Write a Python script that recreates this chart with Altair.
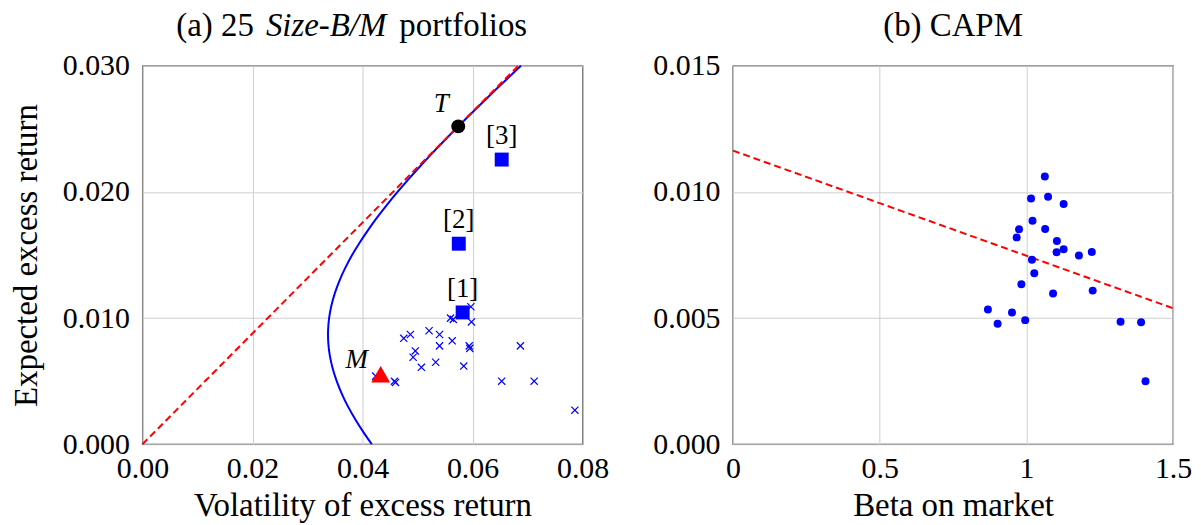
import altair as alt
import pandas as pd

# ---------------- Panel (a): 25 Size-B/M portfolios ----------------
front_ret = [0.000, 0.001, 0.002, 0.003, 0.004, 0.005, 0.006, 0.007, 0.008, 0.009,
             0.010, 0.011, 0.012, 0.013, 0.014, 0.015, 0.016, 0.017, 0.018, 0.019,
             0.020, 0.021, 0.022, 0.023, 0.024, 0.025, 0.026, 0.027, 0.028, 0.029, 0.030]
front_vol = [0.04169, 0.04010, 0.03865, 0.03735, 0.03624, 0.03531, 0.03458, 0.03407, 0.03379, 0.03374,
             0.03393, 0.03435, 0.03499, 0.03584, 0.03689, 0.03811, 0.03950, 0.04104, 0.04270, 0.04448,
             0.04637, 0.04834, 0.05040, 0.05252, 0.05471, 0.05695, 0.05924, 0.06158, 0.06395, 0.06636, 0.06880]

cml_vol = [0.0, 0.0683]
cml_ret = [0.0, 0.030]

cross_vol = [0.0424, 0.0458, 0.0460, 0.0475, 0.0487, 0.0496, 0.0492, 0.0507, 0.0521, 0.0540,
             0.0540, 0.0533, 0.0563, 0.0560, 0.0565, 0.0584, 0.0594, 0.0595, 0.0597, 0.0598,
             0.0653, 0.0687, 0.0712, 0.0786, 0.0580]
cross_ret = [0.0054, 0.0050, 0.0049, 0.0084, 0.0087, 0.0074, 0.0069, 0.0061, 0.0090, 0.0087,
             0.0078, 0.0065, 0.0082, 0.0100, 0.0099, 0.0062, 0.0078, 0.0076, 0.0109, 0.0097,
             0.0050, 0.0078, 0.0050, 0.0027, 0.0104]

sq_vol = [0.0582, 0.0575, 0.0653]
sq_ret = [0.01045, 0.0159, 0.02257]
sq_lab = ["[1]", "[2]", "[3]"]

t_vol, t_ret, t_lab = [0.0574], [0.0252], ["T"]
m_vol, m_ret, m_lab = [0.0433], [0.00555], ["M"]

title_a = ["(a) 25", "Size-B/M", "portfolios"]

# ---------------- Panel (b): CAPM ----------------
beta = [1.063, 1.016, 1.074, 1.127, 1.021, 0.975, 1.064, 0.967, 1.104, 1.103,
        1.127, 1.179, 1.223, 1.019, 1.027, 0.983, 1.091, 1.226, 0.869, 0.951,
        0.902, 0.996, 1.321, 1.391, 1.406]
avg_ret = [0.01061, 0.00974, 0.00981, 0.00952, 0.00886, 0.00852, 0.00853, 0.00820, 0.00806, 0.00761,
           0.00773, 0.00748, 0.00762, 0.00731, 0.00678, 0.00634, 0.00598, 0.00609, 0.00534, 0.00522,
           0.00478, 0.00492, 0.00486, 0.00484, 0.00250]
sml_beta = [0.0, 1.5]
sml_ret = [0.01164, 0.00539]
title_b = ["(b) CAPM"]

FONT = "'Liberation Serif', 'DejaVu Serif', serif"
BLUE = "#0000ff"
RED = "#ff0000"
W, H = 442, 380


def xa():
    return alt.X("x:Q", scale=alt.Scale(domain=[0, 0.08], nice=False),
                 axis=alt.Axis(values=[0, 0.02, 0.04, 0.06, 0.08], format=".2f",
                               title="Volatility of excess return", titleY=62,
                               titleBaseline="middle", labelPadding=9, labelFlush=False))


def ya():
    return alt.Y("y:Q", scale=alt.Scale(domain=[0, 0.03], nice=False),
                 axis=alt.Axis(values=[0, 0.01, 0.02, 0.03], format=".3f",
                               title="Expected excess return", titleX=-116, titleY=190,
                               titleBaseline="middle", labelPadding=13, labelFlush=False))


def xb():
    return alt.X("x:Q", scale=alt.Scale(domain=[0, 1.5], nice=False),
                 axis=alt.Axis(values=[0, 0.5, 1, 1.5], format="~g",
                               title="Beta on market", titleY=62,
                               titleBaseline="middle", labelPadding=9, labelFlush=False))


def yb():
    return alt.Y("y:Q", scale=alt.Scale(domain=[0, 0.015], nice=False),
                 axis=alt.Axis(values=[0, 0.005, 0.01, 0.015], format=".3f",
                               title=None, labelPadding=13, labelFlush=False))


df_front = pd.DataFrame({"x": front_vol, "y": front_ret, "o": front_ret})
df_cml = pd.DataFrame({"x": cml_vol, "y": cml_ret})
df_cross = pd.DataFrame({"x": cross_vol, "y": cross_ret})
df_sq = pd.DataFrame({"x": sq_vol, "y": sq_ret, "lab": sq_lab})
df_t = pd.DataFrame({"x": t_vol, "y": t_ret, "lab": t_lab})
df_m = pd.DataFrame({"x": m_vol, "y": m_ret, "lab": m_lab})

frontier = alt.Chart(df_front).mark_line(color=BLUE, strokeWidth=2, interpolate="catmull-rom").encode(
    x=xa(), y=ya(), order="o:Q")
cml = alt.Chart(df_cml).mark_line(color=RED, strokeWidth=2, strokeDash=[7, 4]).encode(x=xa(), y=ya())
crosses = alt.Chart(df_cross).mark_point(shape="M-1,-1L1,1M-1,1L1,-1", filled=False, color=BLUE,
                                         strokeWidth=1.2, size=52, opacity=1).encode(x=xa(), y=ya())
squares = alt.Chart(df_sq).mark_point(shape="square", filled=True, color=BLUE, size=196,
                                      opacity=1).encode(x=xa(), y=ya())
sq_text = alt.Chart(df_sq).mark_text(font=FONT, fontSize=27, dy=-24, baseline="middle",
                                     color="black").encode(x=xa(), y=ya(), text="lab:N")
m_pt = alt.Chart(df_m).mark_point(shape="triangle-up", filled=True, color=RED, size=361,
                                  opacity=1).encode(x=xa(), y=ya())
m_text = alt.Chart(df_m).mark_text(font=FONT, fontSize=27, fontStyle="italic", dx=-24, dy=-14,
                                   baseline="middle", color="black").encode(x=xa(), y=ya(), text="lab:N")
t_pt = alt.Chart(df_t).mark_point(shape="circle", filled=True, color="black", size=196,
                                  opacity=1).encode(x=xa(), y=ya())
t_text = alt.Chart(df_t).mark_text(font=FONT, fontSize=27, fontStyle="italic", dx=-17, dy=-22,
                                   baseline="middle", color="black").encode(x=xa(), y=ya(), text="lab:N")

ta1 = alt.Chart(pd.DataFrame({"t": [title_a[0]]})).mark_text(
    font=FONT, fontSize=33, align="left", baseline="middle", color="black").encode(
    x=alt.value(34), y=alt.value(-40), text="t:N")
ta2 = alt.Chart(pd.DataFrame({"t": [title_a[1]]})).mark_text(
    font=FONT, fontSize=33, fontStyle="italic", align="left", baseline="middle", color="black").encode(
    x=alt.value(124), y=alt.value(-40), text="t:N")
ta3 = alt.Chart(pd.DataFrame({"t": [title_a[2]]})).mark_text(
    font=FONT, fontSize=33, align="left", baseline="middle", color="black").encode(
    x=alt.value(258), y=alt.value(-40), text="t:N")

left = alt.layer(frontier, cml, crosses, squares, sq_text, m_pt, m_text, t_pt, t_text,
                 ta1, ta2, ta3).properties(width=W, height=H)

df_b = pd.DataFrame({"x": beta, "y": avg_ret})
df_sml = pd.DataFrame({"x": sml_beta, "y": sml_ret})
sml = alt.Chart(df_sml).mark_line(color=RED, strokeWidth=2, strokeDash=[7, 4]).encode(x=xb(), y=yb())
dots = alt.Chart(df_b).mark_point(shape="circle", filled=True, color=BLUE, size=64,
                                  opacity=1).encode(x=xb(), y=yb())
tb = alt.Chart(pd.DataFrame({"t": title_b})).mark_text(
    font=FONT, fontSize=33, align="center", baseline="middle", color="black").encode(
    x=alt.value(W / 2), y=alt.value(-40), text="t:N")

right = alt.layer(sml, dots, tb).properties(width=W, height=H)

chart = alt.hconcat(left, right, spacing=151, bounds="flush").properties(
    padding={"left": 2, "top": 0, "right": 0, "bottom": 0}
).configure_view(stroke="#333333", strokeWidth=1.3).configure_axis(
    domain=False, ticks=False, grid=True, gridColor="#cfcfcf", gridWidth=1,
    labelFont=FONT, labelFontSize=30, labelColor="black",
    titleFont=FONT, titleFontSize=33, titleFontWeight="normal", titleColor="black"
)

chart.save("out.html", embed_options={"renderer": "svg", "actions": False})
